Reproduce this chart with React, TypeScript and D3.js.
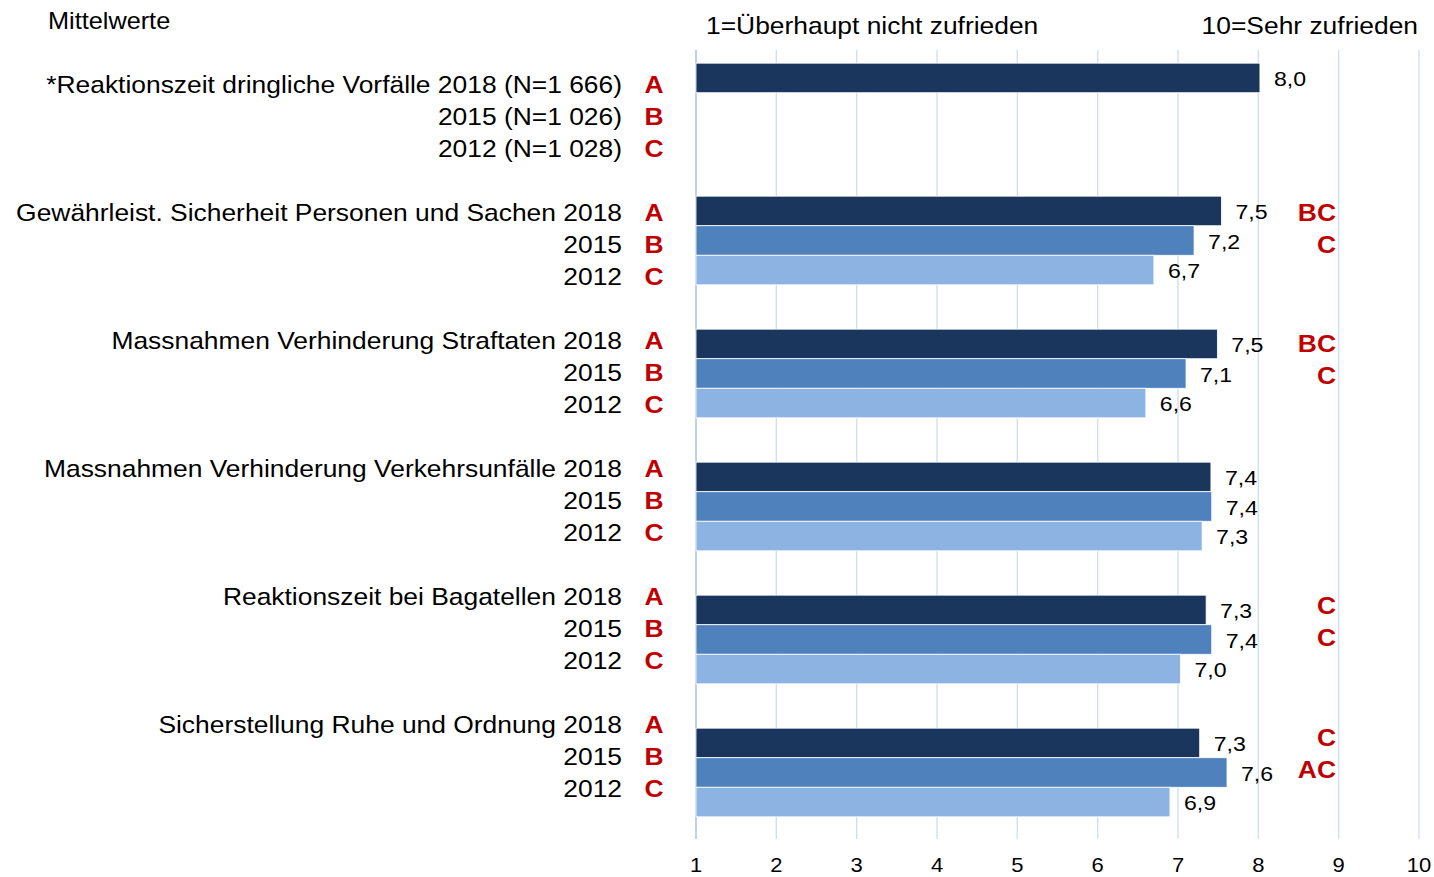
import * as d3 from 'd3';
import React from 'react';

// Mittelwerte, Skala 1-10
const categories = [
  'Reaktionszeit dringliche Vorfälle',
  'Gewährleist. Sicherheit Personen und Sachen',
  'Massnahmen Verhinderung Straftaten',
  'Massnahmen Verhinderung Verkehrsunfälle',
  'Reaktionszeit bei Bagatellen',
  'Sicherstellung Ruhe und Ordnung',
];
const rowLabels = [
  ['*Reaktionszeit dringliche Vorfälle 2018 (N=1 666)', '2015 (N=1 026)', '2012 (N=1 028)'],
  ['Gewährleist. Sicherheit Personen und Sachen 2018', '2015', '2012'],
  ['Massnahmen Verhinderung Straftaten 2018', '2015', '2012'],
  ['Massnahmen Verhinderung Verkehrsunfälle 2018', '2015', '2012'],
  ['Reaktionszeit bei Bagatellen 2018', '2015', '2012'],
  ['Sicherstellung Ruhe und Ordnung 2018', '2015', '2012'],
];
const years = ['2018', '2015', '2012'];
const yearLetters = ['A', 'B', 'C'];
const values2018 = [8.02, 7.54, 7.49, 7.41, 7.35, 7.27];
const values2015 = [null, 7.2, 7.1, 7.42, 7.42, 7.61];
const values2012 = [null, 6.7, 6.6, 7.3, 7.03, 6.9];
const signif2018 = ['', 'BC', 'BC', '', 'C', 'C'];
const signif2015 = ['', 'C', 'C', '', 'C', 'AC'];
const ticks = [1, 2, 3, 4, 5, 6, 7, 8, 9, 10];

const colors = ['#1A365D', '#4F81BD', '#8DB3E2'];
const font = 'Liberation Sans, Arial, sans-serif';
const red = '#C00000';
const SX = 1.1; // the original text is a bit wider than plain Arial

// text with a slight horizontal stretch
function T({ x, y, size, anchor = 'start', bold = false, fill = '#000', children }: any) {
  return (
    <text transform={`translate(${x},${y}) scale(${SX},1)`} fontSize={size} textAnchor={anchor}
      fontWeight={bold ? 'bold' : 'normal'} fill={fill}>{children}</text>
  );
}

export default function App() {
  const width = 1434;
  const height = 877;
  const x = d3.scaleLinear().domain([1, 10]).range([696, 1419]);
  const y = d3.scaleBand<string>().domain(categories).range([41, 839])
    .paddingInner(1 / 3).paddingOuter(1 / 6);
  const yInner = d3.scaleBand<string>().domain(years).range([0, y.bandwidth()]);
  // left text rows and the significance letters sit on their own grids
  const labelY = d3.scaleLinear().domain([0, 1]).range([84, 212]);
  const signY = d3.scaleLinear().domain([1, 5]).range([212, 737]);
  const fmt = (v: number) => d3.format('.1f')(v).replace('.', ',');

  const series = [values2018, values2015, values2012];
  const signif = [signif2018, signif2015];

  return (
    <svg width={width} height={height} style={{ position: 'absolute', left: 0, top: 0 }} fontFamily={font}>
      <rect width={width} height={height} fill="#fff" />
      <T x={48} y={29} size={23}>Mittelwerte</T>
      <T x={706} y={34} size={24}>1=Überhaupt nicht zufrieden</T>
      <T x={1418} y={34} size={24} anchor="end">10=Sehr zufrieden</T>

      {ticks.map((t) => (
        <g key={t}>
          <line x1={x(t)} x2={x(t)} y1={50} y2={839} stroke={t === 1 ? '#BCD1EE' : '#D0DFF3'} strokeWidth={t === 1 ? 2 : 1.4} />
          <T x={x(t)} y={872} size={20} anchor="middle">{t}</T>
        </g>
      ))}

      {categories.map((c, i) => (
        <g key={c}>
          {series.map((s, j) => {
            const v = s[i];
            if (v == null) return null;
            const y0 = (y(c) as number) + (yInner(years[j]) as number);
            return (
              <g key={j}>
                <rect x={x(1)} y={y0} width={x(v) - x(1)} height={yInner.bandwidth()} fill={colors[j]} stroke="#fff" strokeWidth={0.8} />
                <T x={x(v) + 14} y={y0 + yInner.bandwidth() / 2 + 8} size={21}>{fmt(v)}</T>
              </g>
            );
          })}
          {signif.map((s, j) => s[i] ? (
            <T key={'s' + j} x={1336} y={signY(i) + j * 32 + 8.5} size={24} bold fill={red} anchor="end">{s[i]}</T>
          ) : null)}
          {rowLabels[i].map((lab, j) => (
            <g key={'l' + j}>
              <T x={622} y={labelY(i) + j * 32 + 8.5} size={24} anchor="end">{lab}</T>
              <T x={654} y={labelY(i) + j * 32 + 8.5} size={24} bold fill={red} anchor="middle">{yearLetters[j]}</T>
            </g>
          ))}
        </g>
      ))}
    </svg>
  );
}
